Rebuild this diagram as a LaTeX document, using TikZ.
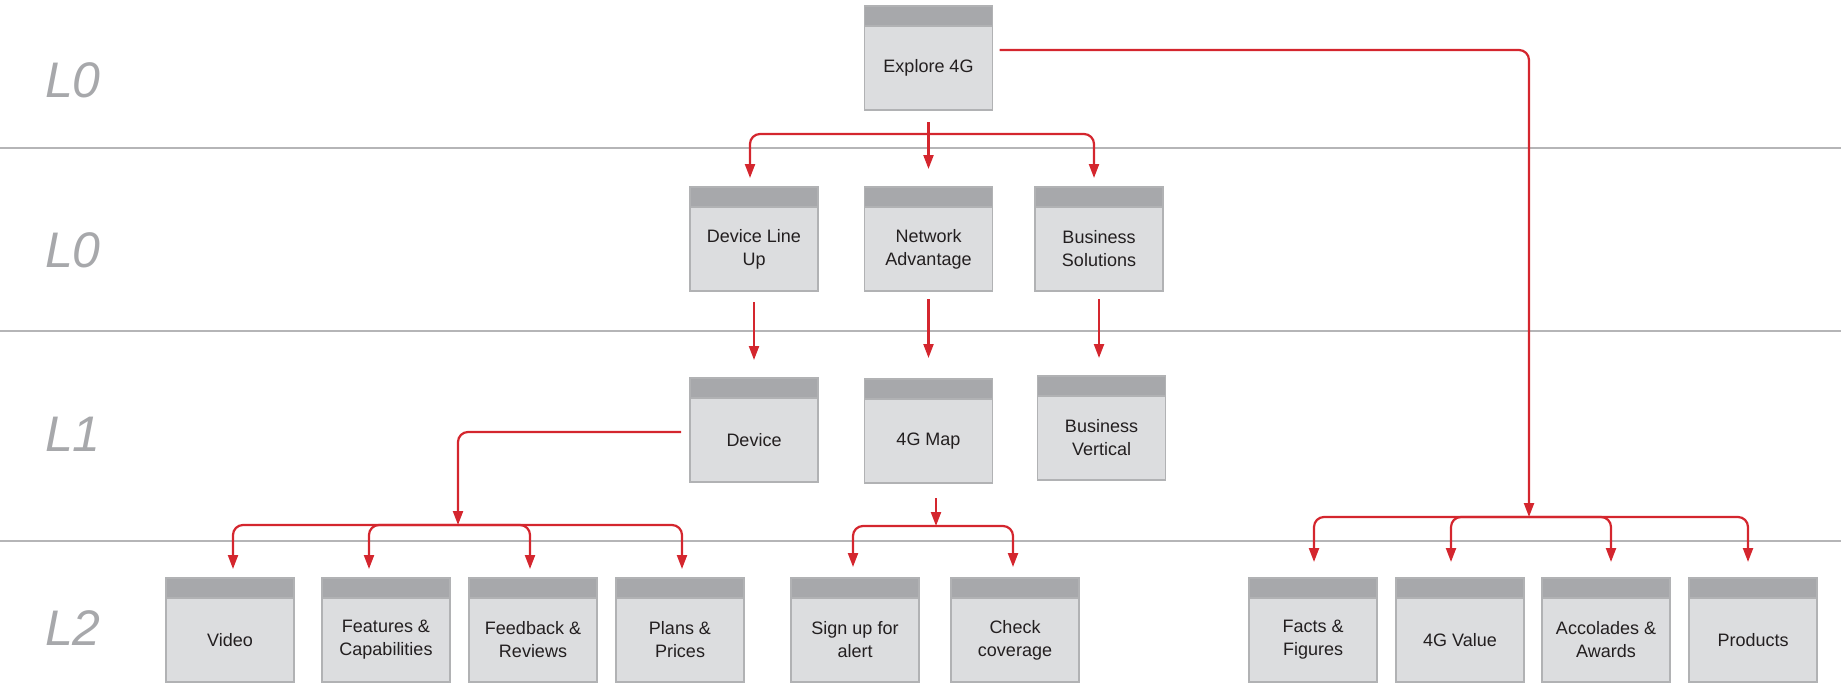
\documentclass[tikz,border=0pt]{standalone}
\usepackage{fontspec}
\setmainfont{Liberation Sans}
\usetikzlibrary{arrows.meta,calc}

\definecolor{hdrc}{HTML}{A7A8AB}
\definecolor{bodyc}{HTML}{DCDDDF}
\definecolor{bordc}{HTML}{B1B2B4}
\definecolor{redc}{HTML}{D4262E}
\definecolor{sepc}{HTML}{B5B5B7}
\definecolor{lblc}{HTML}{A7A8AB}
\definecolor{inkc}{HTML}{231F20}

\tikzset{
  body/.style={draw=bordc, line width=1.5pt, fill=bodyc,
    minimum width=128pt, minimum height=84pt, inner sep=2pt, outer sep=0pt,
    align=center, text=inkc, font=\fontsize{18}{23}\selectfont},
  hdrbar/.style={draw=bordc, line width=1.5pt, fill=hdrc,
    minimum width=128pt, minimum height=20pt, inner sep=0pt, outer sep=0pt},
  box/.style={body, label={[hdrbar, name=#1h]north:}},
  conn/.style={draw=redc, line width=2.2pt, rounded corners=10pt},
  arr/.style={conn, -{Triangle[width=10pt,length=14pt]}},
  sepline/.style={draw=sepc, line width=2pt},
  lvl/.style={text=lblc, font=\fontsize{50}{56}\selectfont\itshape}
}

\begin{document}
\begin{tikzpicture}[x=1pt, y=-1pt]
\useasboundingbox (0,0) rectangle (1841,683);

% level separators
\draw[sepline] (0,148) -- (1841,148);
\draw[sepline] (0,331) -- (1841,331);
\draw[sepline] (0,541) -- (1841,541);

% level names
\node[lvl] (lvA) at (73,80) {L0};
\node[lvl] (lvB) at (73,250) {L0};
\node[lvl] (lvC) at (73,434) {L1};
\node[lvl] (lvD) at (73,628) {L2};

% pages
\node[box=explore] (explore) at (928.5,68) {Explore 4G};

\node[box=dlu]  (dlu)  at (754,249)   {Device Line\\Up};
\node[box=net]  (net)  at (928.5,249) {Network\\Advantage};
\node[box=bsol] (bsol) at (1099,249)  {Business\\Solutions};

\node[box=device] (device) at (754,440)    {Device};
\node[box=map]    (map)    at (928.5,441)  {4G Map};
\node[box=bvert]  (bvert)  at (1101.5,438) {Business\\Vertical};

\node[box=video]  (video)  at (230,640)  {Video};
\node[box=feat]   (feat)   at (386,640)  {Features \&\\Capabilities};
\node[box=feed]   (feed)   at (533,640)  {Feedback \&\\Reviews};
\node[box=plans]  (plans)  at (680,640)  {Plans \&\\Prices};
\node[box=signup] (signup) at (855,640)  {Sign up for\\alert};
\node[box=check]  (check)  at (1015,640) {Check\\coverage};
\node[box=facts]  (facts)  at (1313,640) {Facts \&\\Figures};
\node[box=value]  (value)  at (1460,640) {4G Value};
\node[box=acc]    (acc)    at (1606,640) {Accolades \&\\Awards};
\node[box=prod]   (prod)   at (1753,640) {Products};

% hubs where connectors split
\coordinate (hubA) at (928.5,134);
\coordinate (hubB) at (458,525);
\coordinate (hubC) at (936,526);
\coordinate (hubD) at (1529,517);

% Explore 4G to the first row
\draw[arr] ($(explore.south)+(0,12)$) -- ($(neth.north)+(0,-18)$);
\draw[arr] (hubA) -| ($(dluh.north)+(-4,-9)$);
\draw[arr] (hubA) -| ($(bsolh.north)+(-5,-9)$);

% first row to second row
\draw[arr] ($(dlu.south)+(0,11)$) -- ($(deviceh.north)+(0,-18)$);
\draw[arr] ($(net.south)+(0,8)$) -- ($(maph.north)+(0,-21)$);
\draw[arr] ($(bsol.south)+(0,8)$) -- ($(bsol.south |- bverth.north)+(0,-18)$);

% Device to its pages
\draw[arr] ($(device.west)+(-9,-8)$) -| (hubB);
\draw[arr] (hubB) -| ($(videoh.north)+(3,-9)$);
\draw[arr] (hubB) -| ($(feath.north)+(-17,-9)$);
\draw[arr] (hubB) -| ($(feedh.north)+(-3,-9)$);
\draw[arr] (hubB) -| ($(plansh.north)+(2,-9)$);

% 4G Map to its pages
\draw[arr] ($(map.south)+(7.5,15)$) -- (hubC);
\draw[arr] (hubC) -| ($(signuph.north)+(-2,-11)$);
\draw[arr] (hubC) -| ($(checkh.north)+(-2,-11)$);

% Explore 4G to the right-hand pages
\draw[arr] ($(explore.east)+(7,-18)$) -| (hubD);
\draw[arr] (hubD) -| ($(factsh.north)+(1,-16)$);
\draw[arr] (hubD) -| ($(valueh.north)+(-9,-16)$);
\draw[arr] (hubD) -| ($(acch.north)+(5,-16)$);
\draw[arr] (hubD) -| ($(prodh.north)+(-5,-16)$);
\end{tikzpicture}
\end{document}
